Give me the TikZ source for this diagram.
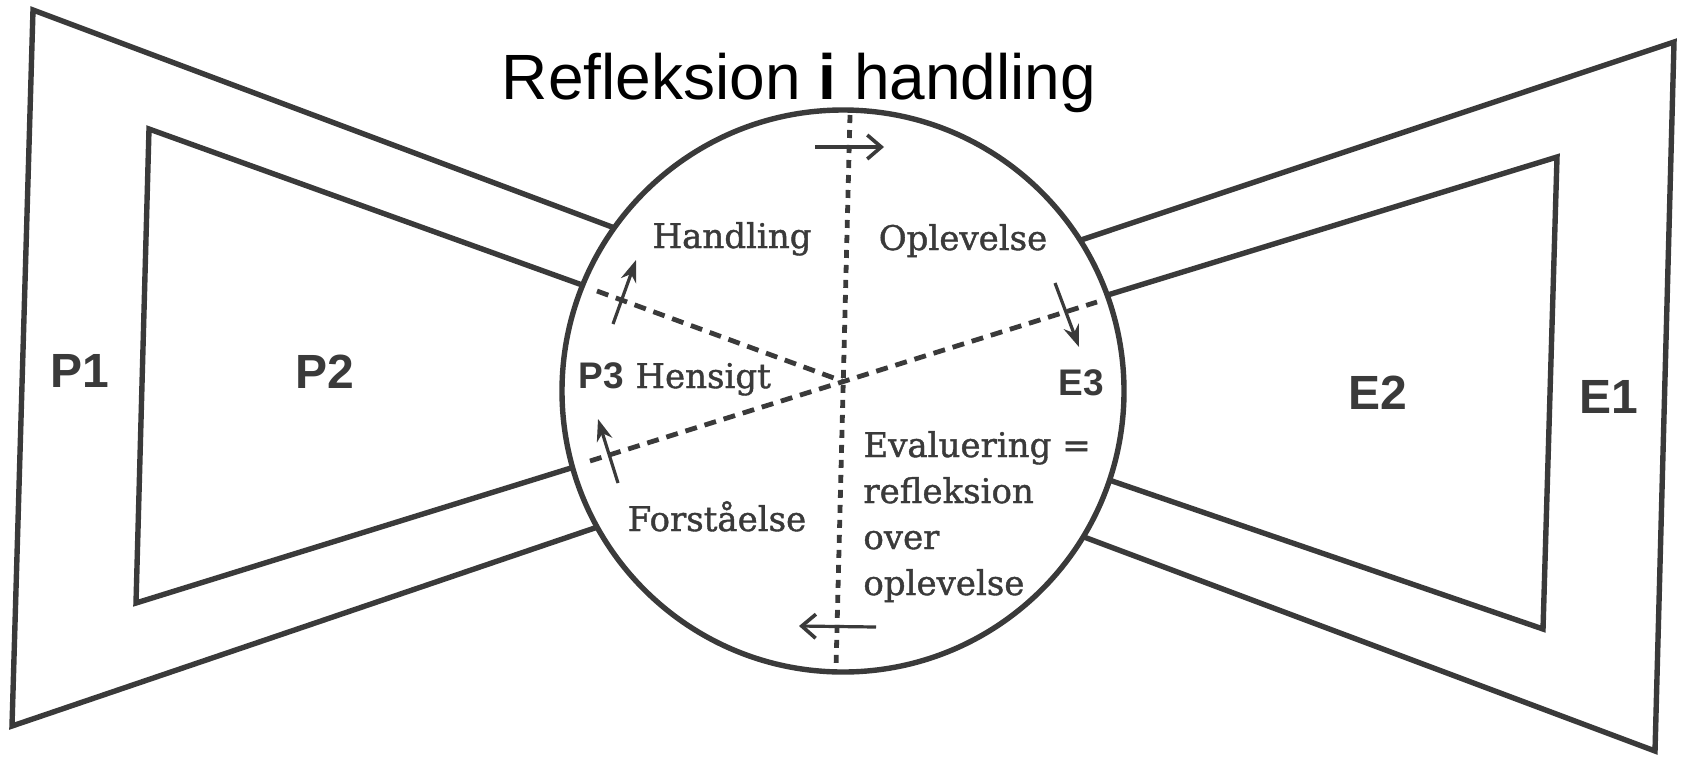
\documentclass[tikz,border=0pt]{standalone}
\usepackage{fontspec}
\setmainfont{DejaVu Serif}
\newfontfamily\txtfont{DejaVu Serif}[FakeBold=1.2]
\newfontfamily\labfont{Liberation Sans}
\usetikzlibrary{arrows.meta}
\definecolor{ink}{RGB}{58,58,58}
\begin{document}
\begin{tikzpicture}[x=0.5pt,y=-0.5pt,
  frame/.style={draw=ink, line width=2.7pt, line join=miter},
  ring/.style={circle, draw=ink, fill=white, line width=2.7pt, minimum size=281pt, inner sep=0pt},
  dashv/.style={draw=ink, line width=2.4pt, dash pattern=on 4pt off 3.5pt},
  dashs/.style={draw=ink, line width=2.4pt, dash pattern=on 6pt off 4pt},
  arrs/.style={draw=ink, line width=1.6pt, -{Stealth[length=11pt,width=8pt]}},
  arrb/.style={draw=ink, line width=1.6pt, -{Straight Barb[length=7pt,width=12pt,line width=1.8pt]}},
  txt/.style={text=ink, inner sep=0pt, font=\txtfont\fontsize{17}{23}\selectfont},
  biglab/.style={text=ink, inner sep=0pt, font=\labfont\bfseries\fontsize{24}{28}\selectfont},
  smalllab/.style={text=ink, inner sep=0pt, font=\labfont\bfseries\fontsize{18.5}{20}\selectfont}]
\useasboundingbox (0,0) rectangle (1684,756);
% left outer (P1)
\coordinate (lo1) at (640,237.5);
\coordinate (lo2) at (33,10);
\coordinate (lo3) at (12,726);
\coordinate (lo4) at (630,516);
% left inner (P2)
\coordinate (li1) at (610,295);
\coordinate (li2) at (149,129);
\coordinate (li3) at (136,603);
\coordinate (li4) at (600,459);
% right outer (E1)
\coordinate (ro1) at (1060,247);
\coordinate (ro2) at (1674,42);
\coordinate (ro3) at (1655,751);
\coordinate (ro4) at (1060,528);
% right inner (E2)
\coordinate (ri1) at (1080,303.5);
\coordinate (ri2) at (1557,157);
\coordinate (ri3) at (1543,629);
\coordinate (ri4) at (1080,470);
\draw[frame] (lo1) -- (lo2) -- (lo3) -- (lo4);
\draw[frame] (li1) -- (li2) -- (li3) -- (li4);
\draw[frame] (ro1) -- (ro2) -- (ro3) -- (ro4);
\draw[frame] (ri1) -- (ri2) -- (ri3) -- (ri4);
% circle
\node[ring] (circ) at (843,391) {};
% dashed lines
\coordinate (vt) at (850,115);
\coordinate (vb) at (836,668);
\coordinate (ctr) at (842,381);
\coordinate (dul) at (597,291);
\coordinate (dll) at (590,461);
\coordinate (dur) at (1097,302);
\draw[dashv] (vt) -- (vb);
\draw[dashs] (dul) -- (ctr);
\draw[dashs] (dll) -- (dur);
% arrows
\coordinate (a1s) at (815,147); \coordinate (a1e) at (884,147);
\coordinate (a2s) at (613,324); \coordinate (a2e) at (636,260);
\coordinate (a3s) at (1055,283); \coordinate (a3e) at (1079,347);
\coordinate (a4s) at (618,483); \coordinate (a4e) at (598,419);
\coordinate (a5s) at (876,627); \coordinate (a5e) at (799,626);
\draw[arrb] (a1s) -- (a1e);
\draw[arrs] (a2s) -- (a2e);
\draw[arrs] (a3s) -- (a3e);
\draw[arrs] (a4s) -- (a4e);
\draw[arrb] (a5s) -- (a5e);
% title
\node[inner sep=0pt, anchor=base, font=\labfont\fontsize{32}{38}\selectfont] (title) at (799,99) {Refleksion \textbf{i} handling};
% circle texts
\node[txt, anchor=base] (handling) at (732,248) {Handling};
\node[txt, anchor=base] (oplevelse) at (963,250) {Oplevelse};
\node[smalllab, anchor=base west] (p3) at (578,388) {P3};
\node[txt, anchor=base west] (hensigt) at (635,388) {Hensigt};
\node[smalllab, anchor=base east] (e3) at (1104,395) {E3};
\node[txt, anchor=base] (forst) at (717,531) {Forståelse};
\node[txt, anchor=base west, align=left] (eval) at (863,595) {Evaluering =\\refleksion\\over\\oplevelse};
% outer labels
\node[biglab, anchor=base] (p1) at (80,387) {P1};
\node[biglab, anchor=base] (p2) at (325,388) {P2};
\node[biglab, anchor=base] (e2) at (1378,409) {E2};
\node[biglab, anchor=base] (e1) at (1609,413) {E1};
\end{tikzpicture}
\end{document}
